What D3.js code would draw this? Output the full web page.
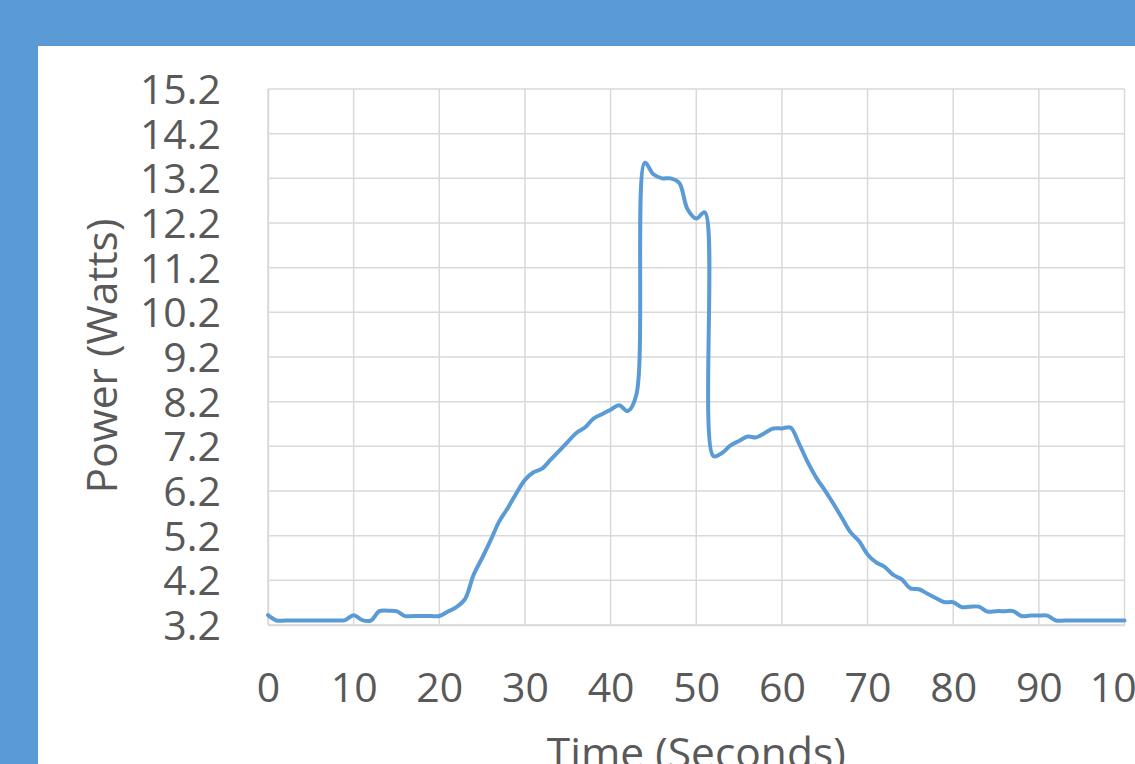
<!DOCTYPE html>
<html>
<head>
<meta charset="utf-8">
<script src="https://cdn.jsdelivr.net/npm/d3@7"></script>
<style>
  html, body { margin: 0; padding: 0; background: #5B9BD5; overflow: hidden; }
  svg { display: block; }
</style>
</head>
<body>
<svg id="chart" width="1135" height="764"></svg>
<script>
// Power draw sampled once per second
const timeSeconds = d3.range(0, 101);
const powerWatts = [
  3.42, 3.30, 3.30, 3.30, 3.30, 3.30, 3.30, 3.30, 3.30, 3.31,
  3.42, 3.31, 3.30, 3.51, 3.52, 3.51, 3.40, 3.40, 3.40, 3.40,
  3.40, 3.50, 3.60, 3.78, 4.32, 4.70, 5.10, 5.52, 5.82, 6.15,
  6.45, 6.62, 6.70, 6.90, 7.10, 7.30, 7.50, 7.62, 7.82, 7.92,
  8.02, 8.12, 7.99, 8.35, 13.55, 13.29, 13.20, 13.20, 13.10, 12.50,
  12.30, 12.44, 6.98, 7.05, 7.22, 7.32, 7.42, 7.40, 7.50, 7.60,
  7.60, 7.62, 7.26, 6.85, 6.50, 6.22, 5.92, 5.60, 5.28, 5.08,
  4.78, 4.60, 4.50, 4.32, 4.22, 4.02, 4.00, 3.90, 3.80, 3.71,
  3.71, 3.60, 3.61, 3.61, 3.50, 3.51, 3.51, 3.51, 3.40, 3.41,
  3.41, 3.41, 3.30, 3.30, 3.30, 3.30, 3.30, 3.30, 3.30, 3.30,
  3.30
];
const xTicks = [0, 10, 20, 30, 40, 50, 60, 70, 80, 90, 100];
const yTicks = [3.2, 4.2, 5.2, 6.2, 7.2, 8.2, 9.2, 10.2, 11.2, 12.2, 13.2, 14.2, 15.2];
const xTitle = "Time (Seconds)";
const yTitle = "Power (Watts)";

const svg = d3.select("#chart");
const font = "'Open Sans', sans-serif";
const textColor = "#595959";
const gridColor = "#d9d9d9";

// white chart panel inside the blue frame
svg.append("rect")
  .attr("x", 38).attr("y", 46)
  .attr("width", 1135 - 38).attr("height", 764 - 46)
  .attr("fill", "#ffffff");

const plot = { left: 268, right: 1124.5, top: 89, bottom: 625 };

const x = d3.scaleLinear().domain([0, 100]).range([plot.left, plot.right]);
const y = d3.scaleLinear().domain([3.2, 15.2]).range([plot.bottom, plot.top]);

// gridlines
const grid = svg.append("g");
grid.selectAll("line.v").data(xTicks).join("line")
  .attr("x1", d => x(d)).attr("x2", d => x(d))
  .attr("y1", plot.top).attr("y2", plot.bottom)
  .attr("stroke", gridColor).attr("stroke-width", 1.5);
grid.selectAll("line.h").data(yTicks).join("line")
  .attr("x1", plot.left).attr("x2", plot.right)
  .attr("y1", d => y(d)).attr("y2", d => y(d))
  .attr("stroke", gridColor).attr("stroke-width", 1.5);

// axes (tick labels only, Excel-style)
const xAxis = d3.axisBottom(x).tickValues(xTicks).tickSize(0).tickPadding(0).tickFormat(d3.format("d"));
const gx = svg.append("g").attr("transform", `translate(0,${plot.bottom})`).call(xAxis);
gx.select(".domain").attr("stroke", gridColor).attr("stroke-width", 1.5);
gx.selectAll("text")
  .attr("dy", null).attr("y", 77)
  .attr("fill", textColor)
  .style("font-family", font).style("font-size", "41px");

const yAxis = d3.axisLeft(y).tickValues(yTicks).tickSize(0).tickPadding(0).tickFormat(d3.format(".1f"));
const gy = svg.append("g").attr("transform", `translate(${plot.left},0)`).call(yAxis);
gy.select(".domain").attr("stroke", gridColor).attr("stroke-width", 1.5);
gy.selectAll("text")
  .attr("x", -47).attr("dy", "0.35em")
  .attr("fill", textColor)
  .style("font-family", font).style("font-size", "41px");

// axis titles
svg.append("text")
  .attr("x", (plot.left + plot.right) / 2).attr("y", 768)
  .attr("text-anchor", "middle")
  .attr("fill", textColor)
  .style("font-family", font).style("font-size", "42.5px")
  .text(xTitle);

svg.append("text")
  .attr("transform", `translate(117,${(plot.top + plot.bottom) / 2 - 1}) rotate(-90)`)
  .attr("text-anchor", "middle")
  .attr("fill", textColor)
  .style("font-family", font).style("font-size", "42.5px")
  .text(yTitle);

// power line
const series = timeSeconds.map((t, i) => ({ t, v: powerWatts[i] }));
const line = d3.line()
  .x(d => x(d.t))
  .y(d => y(d.v))
  .curve(d3.curveCatmullRom.alpha(0.5));

svg.append("path")
  .datum(series)
  .attr("d", line)
  .attr("fill", "none")
  .attr("stroke", "#5B9BD5")
  .attr("stroke-width", 4)
  .attr("stroke-linejoin", "round")
  .attr("stroke-linecap", "round");
</script>
</body>
</html>
